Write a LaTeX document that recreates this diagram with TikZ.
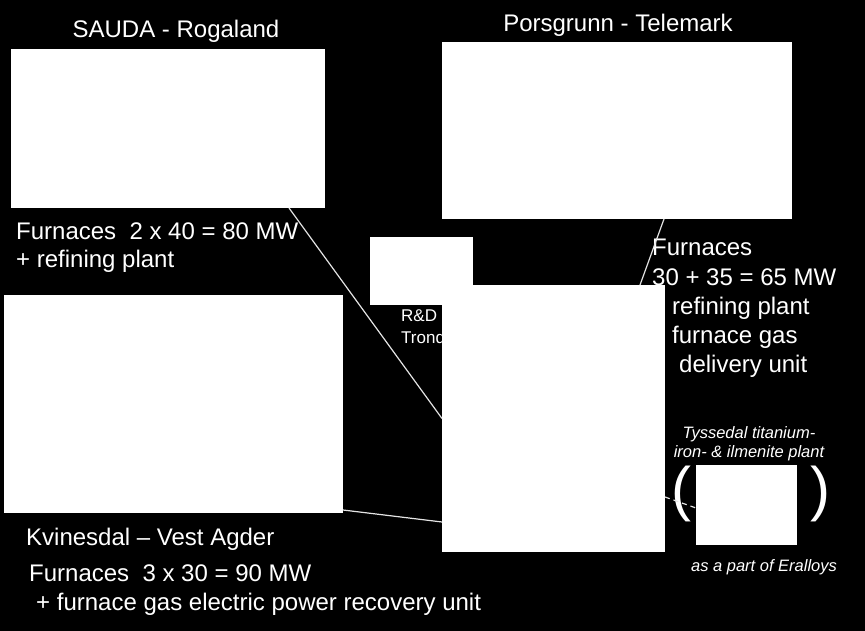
\documentclass[tikz,border=0pt]{standalone}
\usepackage{fontspec}
\setmainfont{Liberation Sans}
\usepackage{tikz}
\usetikzlibrary{positioning, calc}
\definecolor{slidebg}{RGB}{0,0,0}
\definecolor{linkgray}{RGB}{228,228,228}
\tikzset{
  photo/.style={
    rectangle, fill=white, draw=none,
    inner sep=0pt, outer sep=0pt, anchor=north west
  },
  sitetext/.style={text=white, inner sep=0pt, anchor=base west, font=\fontsize{24}{28}\selectfont},
  sitetitle/.style={sitetext, anchor=base},
  rdtext/.style={sitetext, font=\fontsize{17}{20}\selectfont},
  tysstext/.style={sitetext, anchor=base, font=\fontsize{16.5}{20}\selectfont\itshape},
  paren/.style={text=white, inner sep=0pt, font=\fontsize{60}{60}\selectfont},
  link/.style={draw=linkgray, line width=1.2pt},
  linkD/.style={link, dash pattern=on 5pt off 4pt}
}

\begin{document}
\begin{tikzpicture}[x=1pt, y=-1pt]
          % Slide background
          \fill[slidebg] (0,0) rectangle (865,631);
          \useasboundingbox (0,0) rectangle (865,631);

          % Site titles
          \node[sitetitle] (saudaT) at (176,38) {SAUDA - Rogaland};
          \node[sitetitle] (porsT) at (618,32) {Porsgrunn - Telemark};
          \node[sitetext] (kvinT) at (26,545) {Kvinesdal -- Vest Agder};

          % Furnace notes
          \node[sitetext] (sauda1) at (16,240) {Furnaces~~2 x 40 = 80 MW};
          \node[sitetext] (sauda2) at (16,268) {+ refining plant};
          \node[sitetext] (kvin1) at (29,581) {Furnaces~~3 x 30 = 90 MW};
          \node[sitetext] (kvin2) at (36,610) {+ furnace gas electric power recovery unit};
          \node[sitetext] (pors1) at (652,256) {Furnaces};
          \node[sitetext] (pors2) at (652,285) {30 + 35 = 65 MW};
          \node[sitetext] (pors3) at (672,314) {refining plant};
          \node[sitetext] (pors4) at (672,343) {furnace gas};
          \node[sitetext] (pors5) at (679,372) {delivery unit};

          % R&D note (partly under the plant picture)
          \node[rdtext] (rd1) at (401,321) {R\&D};
          \node[rdtext] (rd2) at (401,343) {Trond};

          % Tyssedal notes
          \node[tysstext] (tyss1) at (749,438) {Tyssedal titanium-};
          \node[tysstext] (tyss2) at (749,457) {iron- \& ilmenite plant};
          \node[tysstext] (tyss3) at (764,571) {as a part of Eralloys};
          \node[paren] (parL) at (681,494) {(};
          \node[paren] (parR) at (820,494) {)};

          % Pictures (white boxes)
          \node[photo, minimum width=314pt, minimum height=159pt] (sauda) at (11,49) {};
          \node[photo, minimum width=350pt, minimum height=177pt] (pors) at (442,42) {};
          \node[photo, minimum width=339pt, minimum height=218pt] (kvin) at (4,295) {};
          \node[photo, minimum width=103pt, minimum height=68pt] (rd) at (370,237) {};
          \node[photo, minimum width=223pt, minimum height=267pt] (plant) at (442,285) {};
          \node[photo, minimum width=101pt, minimum height=80pt] (tyss) at (696,465) {};

          % Links to the plant
          \draw[link] ([xshift=-36pt]sauda.south east) -- (plant.west);
          \draw[link] ([xshift=-128pt]pors.south east) -- ([xshift=-25pt]plant.north east);
          \draw[link] ([yshift=3pt]kvin.south east) -- ([yshift=30pt]plant.south west);
          \draw[linkD] ([yshift=55pt]plant.south east) -- ([yshift=-3pt]tyss.west);
        \end{tikzpicture}
\end{document}
